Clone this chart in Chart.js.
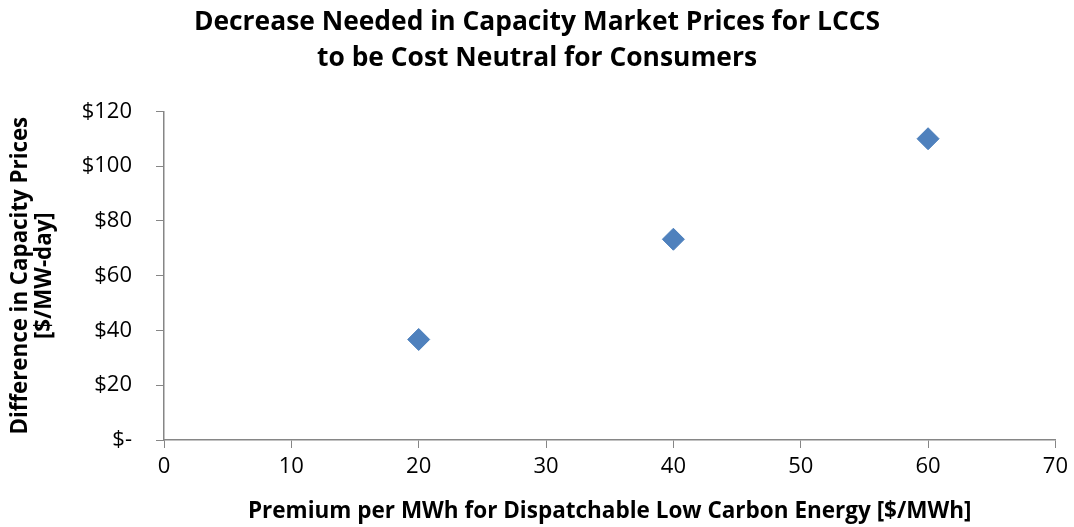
<!DOCTYPE html>
<html>
<head>
<meta charset="utf-8">
<script src="https://cdn.jsdelivr.net/npm/chart.js@4.4.0/dist/chart.umd.min.js"></script>
<style>
  html, body { margin: 0; padding: 0; background: #fff; }
  #contenedor { width: 1074px; height: 527px; }
</style>
</head>
<body>
<div id="contenedor"><canvas id="grafico"></canvas></div>
<script>
// datos
const premium = [20, 40, 60];            // $/MWh
const diferencia = [36.7, 73.3, 110];    // $/MW-day
const tituloLineas = ['Decrease Needed in Capacity Market Prices for LCCS', 'to be Cost Neutral for Consumers'];
const tituloX = 'Premium per MWh for Dispatchable Low Carbon Energy [$/MWh]';
const tituloY = ['Difference in Capacity Prices', '[$/MW-day]'];

const gris = '#868686';
const fuente = "'Open Sans', sans-serif";

const ctx = document.getElementById('grafico').getContext('2d');

new Chart(ctx, {
    type: 'scatter',
    data: {
        datasets: [{
            data: premium.map((x, i) => ({ x: x, y: diferencia[i] })),
            pointStyle: 'rectRot',
            pointRadius: 11,
            pointHoverRadius: 11,
            backgroundColor: '#4F81BD',
            borderColor: '#4A7EBB',
            borderWidth: 1
        }]
    },
    options: {
        responsive: true,
        maintainAspectRatio: false,
        animation: false,
        // padding simetrico para que el titulo quede centrado en el lienzo
        layout: { padding: { left: 17, right: 17, top: 0, bottom: 0 } },
        plugins: {
            legend: { display: false },
            tooltip: { enabled: false },
            title: {
                display: true,
                text: tituloLineas,
                color: '#000',
                font: { family: fuente, size: 26.4, weight: 'bold', lineHeight: 1.37 },
                padding: { top: 4, bottom: 35 }
            }
        },
        scales: {
            x: {
                type: 'linear',
                min: 0,
                max: 70,
                ticks: { stepSize: 10, color: '#000', font: { family: fuente, size: 22 }, padding: 6 },
                grid: { drawOnChartArea: false, drawTicks: true, tickLength: 8, color: gris },
                border: { display: true, color: gris, width: 1.5 },
                title: {
                    display: true,
                    text: tituloX,
                    color: '#000',
                    font: { family: fuente, size: 22.5, weight: 'bold' },
                    padding: { top: 4, bottom: 2 }
                },
                afterFit: function (scale) { scale.height = 87; }
            },
            y: {
                min: 0,
                max: 120,
                ticks: {
                    stepSize: 20,
                    color: '#000',
                    font: { family: fuente, size: 22 },
                    padding: 24,
                    callback: function (v) { return v === 0 ? '$-' : '$' + v; }
                },
                grid: { drawOnChartArea: false, drawTicks: true, tickLength: 8, color: gris },
                border: { display: true, color: gris, width: 1.5 },
                title: {
                    display: true,
                    text: tituloY,
                    color: '#000',
                    font: { family: fuente, size: 22.3, weight: 'bold', lineHeight: 1.08 },
                    padding: { top: -8, bottom: 0 }
                },
                afterFit: function (scale) { scale.width = 147; }
            }
        }
    }
});
</script>
</body>
</html>
